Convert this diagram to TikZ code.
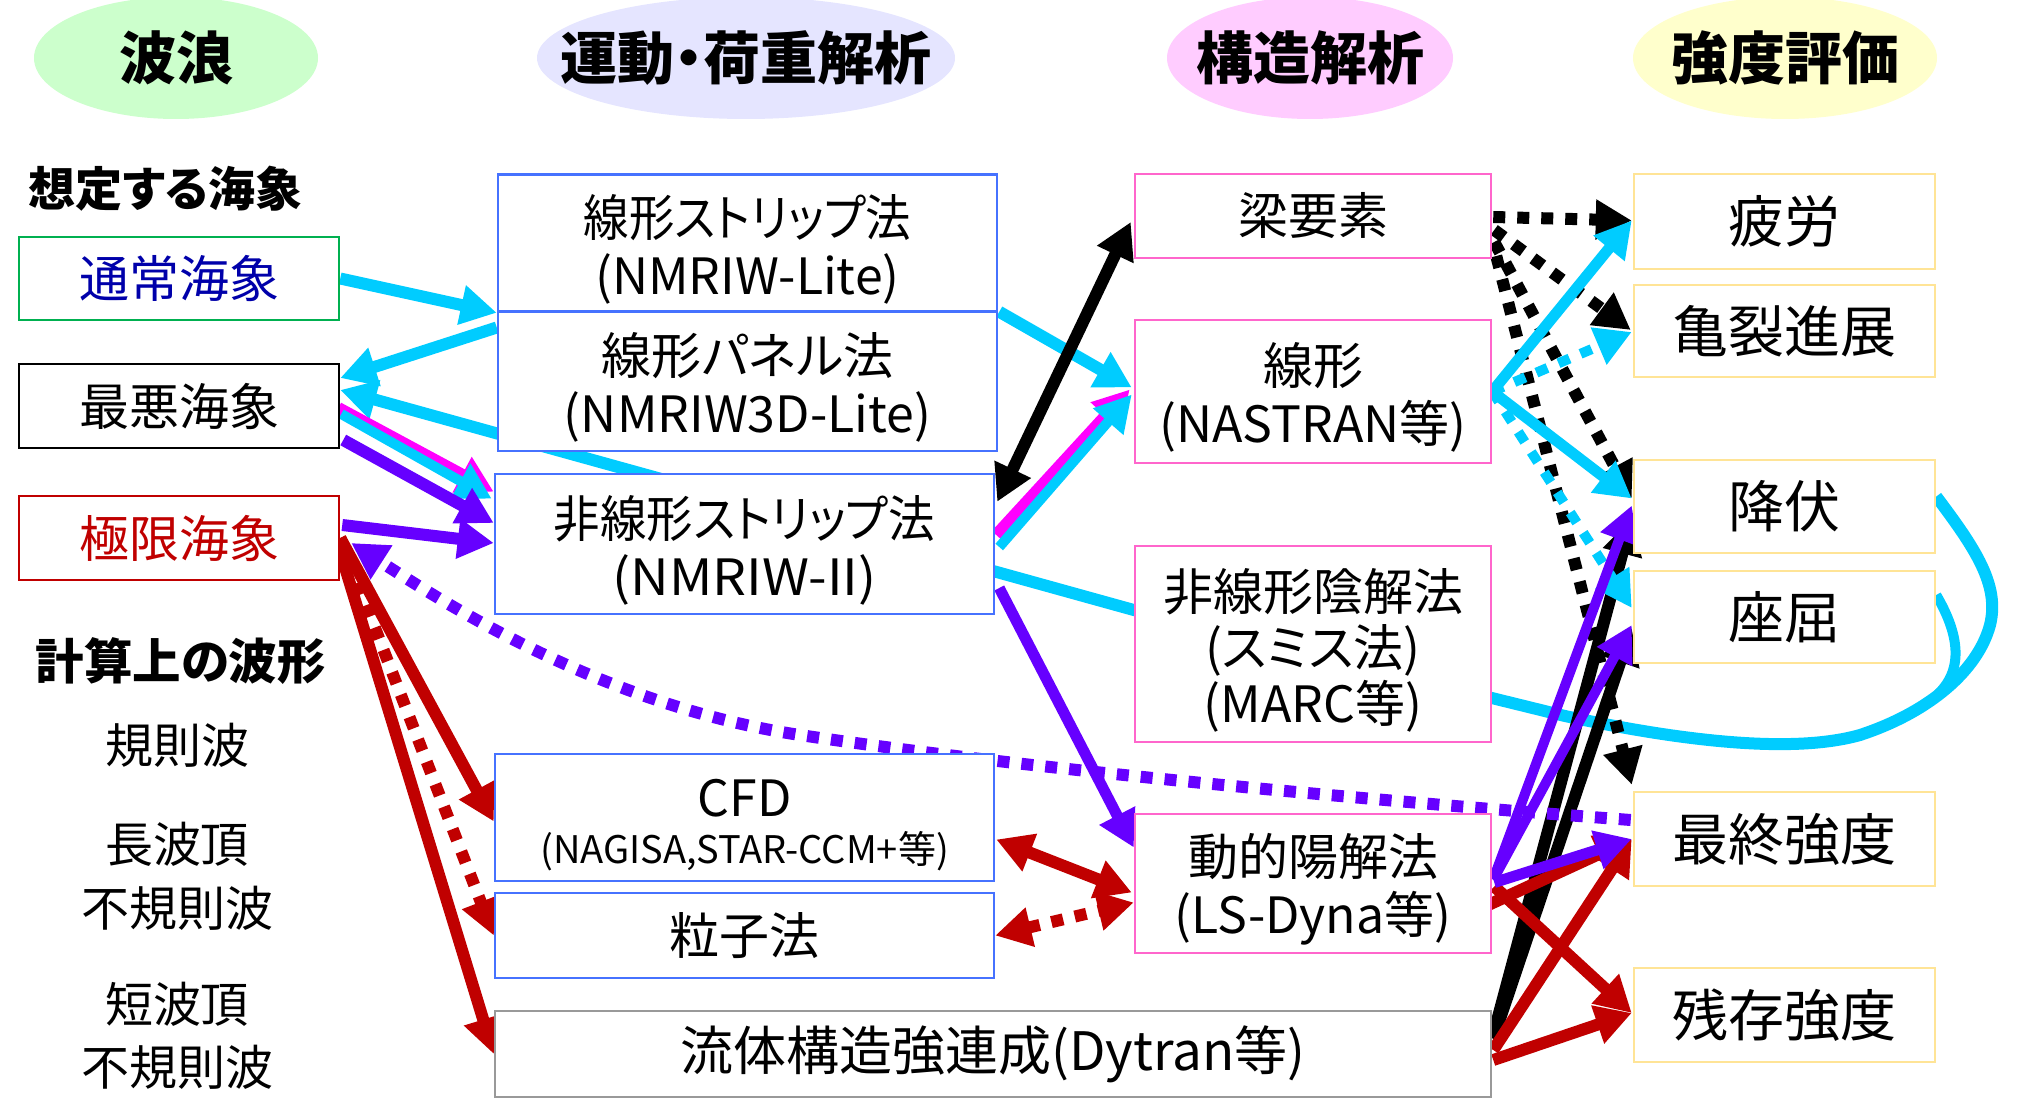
\documentclass[tikz,border=0pt]{standalone}
\usepackage{fontspec}
\setmainfont{Noto Sans CJK JP}[RawFeature=+palt]
\usetikzlibrary{shapes.geometric,arrows.meta,calc,backgrounds}
\definecolor{cy}{RGB}{0,204,255}
\definecolor{pu}{RGB}{102,0,255}
\definecolor{mg}{RGB}{255,0,255}
\definecolor{rd}{RGB}{192,0,0}
\definecolor{bbx}{RGB}{70,114,255}
\definecolor{pbx}{RGB}{255,102,204}
\definecolor{ybx}{RGB}{255,228,150}
\definecolor{gbx}{RGB}{0,176,80}
\definecolor{nv}{RGB}{0,0,170}
\definecolor{eg}{RGB}{204,255,204}
\definecolor{el}{RGB}{229,229,255}
\definecolor{ep}{RGB}{255,204,255}
\definecolor{ey}{RGB}{255,255,204}
\newcommand\tst{\rule{0pt}{54pt}}
\begin{document}
\begin{tikzpicture}[x=1pt,y=-1pt,
 box/.style={draw, line width=2.5pt, fill=white, inner sep=0pt, align=center},
 hdr/.style={ellipse, inner sep=0pt, minimum height=122pt},
 hdrf/.style={font=\fontsize{57}{60}\selectfont\bfseries, inner sep=0pt},
 ftm/.style={font=\fontsize{50}{58}\selectfont},
 ftr/.style={font=\fontsize{56}{60}\selectfont},
 conn/.style={line width=12pt, -{Triangle[length=36pt,width=38pt]}},
 dconn/.style={line width=12pt, {Triangle[length=36pt,width=38pt]}-{Triangle[length=36pt,width=38pt]}},
 dots/.style={dash pattern=on 12pt off 12pt},
]
\path[use as bounding box] (0,0) rectangle (2030,1102);

% headers
\node[hdr, fill=eg, minimum width=284pt, label={[hdrf]center:波浪}] (h1) at (176,58) {};
\node[hdr, fill=el, minimum width=418pt, label={[hdrf]center:運動・荷重解析}] (h2) at (746,58) {};
\node[hdr, fill=ep, minimum width=286pt, label={[hdrf]center:構造解析}] (h3) at (1310,58) {};
\node[hdr, fill=ey, minimum width=304pt, label={[hdrf]center:強度評価}] (h4) at (1785,58) {};

% left labels
\node[anchor=west, font=\fontsize{47}{50}\selectfont\bfseries] (t1) at (25,189) {想定する海象};
\node[anchor=west, font=\fontsize{48.5}{50}\selectfont\bfseries] (t2) at (32,661) {計算上の波形};
\node[font=\fontsize{48}{64}\selectfont, align=center] (w1) at (177,745) {規則波};
\node[font=\fontsize{48}{64}\selectfont, align=center] (w2) at (177,876) {長波頂\\不規則波};
\node[font=\fontsize{48}{63}\selectfont, align=center] (w3) at (177,1035.5) {短波頂\\不規則波};

% sea state boxes
\node[box, ftm, draw=gbx, text=nv, minimum width=320pt, minimum height=83pt] (n1) at (179,278.5) {通常海象};
\node[box, ftm, draw=black, minimum width=320pt, minimum height=84pt] (n2) at (179,406) {最悪海象};
\node[box, ftm, draw=rd, text=rd, minimum width=320pt, minimum height=84pt] (n3) at (179,538) {極限海象};

% motion / load boxes
\node[box, ftm, draw=bbx, minimum width=499pt, minimum height=137pt] (m1) at (747.5,243) {\tst\scalebox{0.91}[1]{線形ストリップ法}\\(NMRIW-Lite)};
\node[box, ftm, draw=bbx, minimum width=499pt, minimum height=139pt] (m2) at (747.5,381.5) {\tst 線形パネル法\\(NMRIW3D-Lite)};
\node[box, ftm, draw=bbx, minimum width=499pt, minimum height=140pt] (m3) at (744.5,544) {\tst\scalebox{0.93}[1]{非線形ストリップ法}\\\scalebox{1.07}[1]{(NMRIW-II)}};
\node[box, draw=bbx, minimum width=499pt, minimum height=127pt] (m4) at (744.5,817.5) {{\fontsize{50}{52}\selectfont\rule{0pt}{52pt}CFD}\\[13pt]{\fontsize{38}{40}\selectfont (NAGISA,STAR-CCM+等)}};
\node[box, ftm, draw=bbx, minimum width=499pt, minimum height=85pt] (m5) at (744.5,935.5) {粒子法};
\node[box, draw=black!40, font=\fontsize{53}{60}\selectfont, minimum width=996pt, minimum height=86pt] (m6) at (993,1054) {流体構造強連成(Dytran等)};

% structural boxes
\node[box, ftm, draw=pbx, minimum width=356pt, minimum height=84pt] (s1) at (1313,216) {梁要素};
\node[box, ftm, draw=pbx, minimum width=356pt, minimum height=143pt] (s2) at (1313,391.5) {\tst 線形\\(NASTRAN等)};
\node[box, draw=pbx, font=\fontsize{50}{56}\selectfont, minimum width=356pt, minimum height=196pt] (s3) at (1313,644) {\tst 非線形陰解法\\(スミス法)\\(MARC等)};
\node[box, ftm, draw=pbx, minimum width=356pt, minimum height=139pt] (s4) at (1313,883.5) {\tst 動的陽解法\\(LS-Dyna等)};

% strength boxes
\node[box, ftr, draw=ybx, minimum width=301pt, minimum height=95pt] (r1) at (1784.5,221.5) {疲労};
\node[box, ftr, draw=ybx, minimum width=301pt, minimum height=92pt] (r2) at (1784.5,331) {亀裂進展};
\node[box, ftr, draw=ybx, minimum width=301pt, minimum height=93pt] (r3) at (1784.5,506.5) {降伏};
\node[box, ftr, draw=ybx, minimum width=301pt, minimum height=92pt] (r4) at (1784.5,617) {座屈};
\node[box, ftr, draw=ybx, minimum width=301pt, minimum height=94pt] (r5) at (1784.5,839) {最終強度};
\node[box, ftr, draw=ybx, minimum width=301pt, minimum height=94pt] (r6) at (1784.5,1015) {残存強度};

\begin{scope}[on background layer]
% long cyan feedback curve
\draw[cy, conn] ($(r3.east)+(0,-10)$) .. controls (1975,548) and (2000,585) .. (1990,625)
  .. controls (1978,670) and (1930,712) .. (1860,735)
  .. controls (1800,752) and (1700,745) .. (1565,716)
  -- ($(s3.west)+(0,-34)$) -- ($(n2.east)+(0,-16)$);
\draw[cy, line width=10pt] ($(r4.east)+(0,-22)$) .. controls (1958,632) and (1965,668) .. (1938,694);

% black dotted from beam
\draw[black, conn, dots] ($(s1.east)+(1,1)$) -- ($(r1.west)+(-1,-1)$);
\draw[black, conn, dots] ($(s1.east)+(2,14)$) -- ($(r2.west)+(-2,-1)$);
\draw[black, conn, dots] ($(s1.east)+(2,26)$) -- ($(r3.west)+(-1,-8)$);
\draw[black, conn, dots] ($(s1.east)+(4,40)$) -- ($(r5.north west)+(-1,-6)$);

% black from fluid-structure
\draw[black, conn] ($(m6.north east)+(1,25)$) -- ($(r3.west)+(-1,12)$);
\draw[black, conn] ($(m6.north east)+(1,29)$) -- ($(r4.west)+(-1,11)$);

% cyan from wave states
\draw[cy, conn] (n1.east) -- (m1.south west);
\draw[cy, conn] ($(m2.west)+(0,-54)$) -- ($(n2.east)+(0,-28)$);
\draw[cy, conn] ($(m1.south east)+(1,-1)$) -- ($(s2.west)+(-2,-4)$);

% black double arrow
\draw[black, dconn] ($(m3.north east)+(2,29)$) -- ($(s1.west)+(-3,6)$);

% magenta / cyan pairs
\draw[mg, conn] ($(n2.east)+(-2,2)$) -- ($(m3.north west)+(0,19)$);
\draw[cy, conn, line width=10pt] ($(n2.east)+(1,8)$) -- ($(m3.north west)+(-2,26)$);
\draw[mg, conn] ($(m3.east)+(1,-9)$) -- ($(s2.west)+(-4,-2)$);
\draw[cy, conn, line width=10pt] ($(m3.east)+(4,3)$) -- ($(s2.west)+(-2,3)$);

% purple
\draw[pu, conn] ($(n2.east)+(3,34)$) -- ($(m3.west)+(0,-21)$);
\draw[pu, conn] ($(n3.east)+(2,-13)$) -- ($(m3.west)+(0,-1)$);
\draw[pu, conn, line width=11pt] ($(m3.east)+(4,44)$) -- ($(s4.west)+(0,-36)$);

% red from extreme sea
\draw[rd, conn] (n3.east) -- ($(m4.west)+(0,4)$);
\draw[rd, conn, dots] (n3.east) -- (m5.west);
\draw[rd, conn] ($(n3.east)+(-3,4)$) -- (m6.west);

% red double arrows
\draw[rd, dconn] ($(m4.east)+(1,22)$) -- ($(s4.west)+(-2,9)$);
\draw[rd, dconn, dots] (m5.east) -- ($(s4.west)+(0,19)$);

% cyan from linear FEM
\draw[cy, conn, line width=11pt] (s2.east) -- ($(r1.west)+(-1,-1)$);
\draw[cy, conn, dots, line width=10pt] (s2.east) -- ($(r2.west)+(-1,1)$);
\draw[cy, conn, line width=11pt] (s2.east) -- ($(r3.west)+(-1,-8)$);
\draw[cy, conn, dots, line width=10pt] (s2.east) -- ($(r4.west)+(-1,-9)$);

% red from explicit and fluid-structure
\draw[rd, conn] ($(s4.east)+(-3,21)$) -- ($(r5.west)+(-1,0)$);
\draw[rd, conn] ($(s4.east)+(2,3)$) -- ($(r6.west)+(-1,-2)$);
\draw[rd, conn] ($(m6.east)+(1,-4)$) -- ($(r5.west)+(-1,0)$);
\draw[rd, conn] ($(m6.east)+(1,6)$) -- ($(r6.west)+(-1,-2)$);

% purple from explicit
\draw[pu, conn, line width=10pt] ($(s4.east)+(1,-4)$) -- ($(r3.west)+(-1,-1)$);
\draw[pu, conn, line width=10pt] ($(s4.east)+(1,-4)$) -- ($(r4.west)+(-1,8)$);
\draw[pu, conn, line width=11pt] ($(s4.east)+(2,-1)$) -- ($(r5.west)+(-1,0)$);

% purple dotted feedback
\draw[pu, conn, dots] ($(r5.west)+(-2,-19)$) .. controls (1300,795) and (1000,765) .. (800,735)
  .. controls (600,705) and (440,600) .. ($(n3.east)+(11,5)$);
\end{scope}
\end{tikzpicture}
\end{document}
